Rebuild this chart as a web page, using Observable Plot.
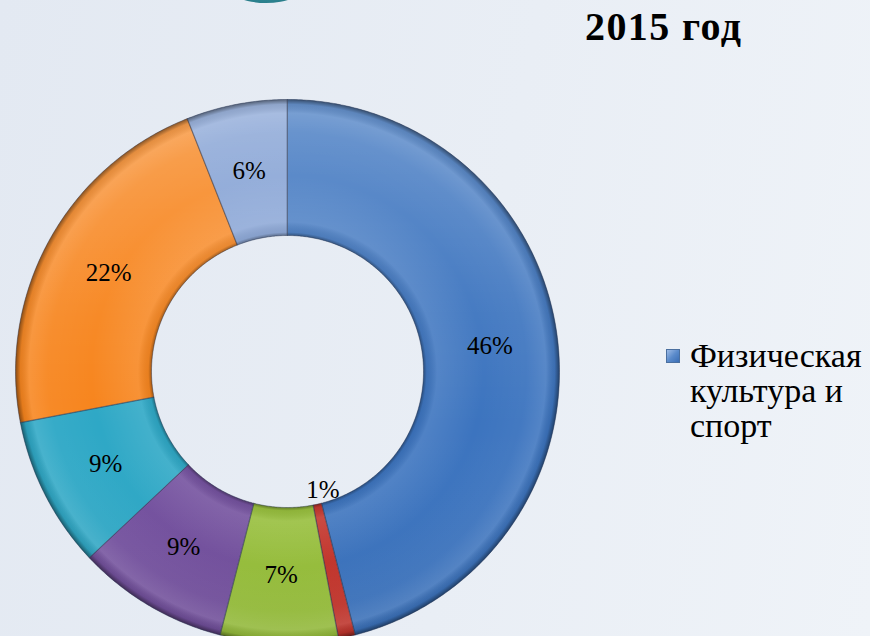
<!DOCTYPE html>
<html><head><meta charset="utf-8">
<script src="https://cdn.jsdelivr.net/npm/d3@7"></script>
<script src="https://cdn.jsdelivr.net/npm/@observablehq/plot@0.6"></script>
<style>
html,body{margin:0;padding:0;}
body{width:870px;height:636px;overflow:hidden;position:relative;
  background:linear-gradient(100deg,#e3e9f2 0%,#e9eef5 55%,#eff3f8 100%);
  font-family:"Liberation Serif","Times New Roman",serif;color:#000;}
#chart{position:absolute;left:0;top:0;}
#deco{position:absolute;left:228px;top:-30px;width:76px;height:33px;border-radius:50%;
  background:radial-gradient(ellipse at 50% 30%,#3aa0ae 0%,#2a7f8c 70%,#1f6670 100%);}
#title{position:absolute;left:585px;top:3px;font-size:40px;font-weight:bold;letter-spacing:1.4px;white-space:nowrap;}
#legend{position:absolute;left:666px;top:339px;font-size:34px;line-height:35px;}
#legend .sw{position:absolute;left:0;top:10px;width:12px;height:12px;
  background:linear-gradient(135deg,#9dbbe6 0%,#5b8bcb 50%,#3a6db5 100%);border:1px solid #4a6f9f;}
#legend .tx{position:absolute;left:24px;top:-1px;white-space:nowrap;}
</style></head>
<body>
<div id="deco"></div>
<div id="chart"></div>
<div id="title">2015 год</div>
<div id="legend"></div>
<script>
// ---- data ----
const legendLabels = ["Физическая", "культура и", "спорт"];
const categories = ["Физическая культура и спорт", "s2", "s3", "s4", "s5", "s6", "s7"];
const values = [46, 1, 7, 9, 9, 22, 6];
const labels = ["46%", "1%", "7%", "9%", "9%", "22%", "6%"];
const colors = ["#3c74bf", "#c5352c", "#98c03c", "#74519f", "#2ea8c6", "#f7841c", "#819fd3"];

// ---- geometry ----
const W = 870, H = 636;
const R = 272, CX = 287, CY = 371;     // pixel layout of donut
const outerR = 1, innerR = 0.5;

const arcs = d3.pie().sort(null).value(d => d)(values);
const rows = [];
arcs.forEach((a, i) => {
  const n = Math.max(2, Math.ceil((a.endAngle - a.startAngle) / 0.01));
  for (let k = 0; k <= n; k++) {
    const t = a.startAngle + (a.endAngle - a.startAngle) * k / n;
    rows.push({slice: i, x: outerR * Math.sin(t), y: outerR * Math.cos(t)});
  }
  for (let k = n; k >= 0; k--) {
    const t = a.startAngle + (a.endAngle - a.startAngle) * k / n;
    rows.push({slice: i, x: innerR * Math.sin(t), y: innerR * Math.cos(t)});
  }
});
const labelRows = arcs.map((a, i) => {
  const m = (a.startAngle + a.endAngle) / 2;
  const small = values[i] < 3;
  const r = small ? 0.455 : (outerR + innerR) / 2;
  const t = small ? m - 0.07 : m;
  return {x: r * Math.sin(t), y: r * Math.cos(t), text: labels[i]};
});

const plot = Plot.plot({
  width: W, height: H,
  margin: 0, inset: 0,
  x: {domain: [-CX / R, (W - CX) / R], axis: null},
  y: {domain: [-(H - CY) / R, CY / R], axis: null},
  color: {type: "identity"},
  style: {background: "transparent", overflow: "visible"},
  marks: [
    Plot.line(rows, {x: "x", y: "y", z: "slice", fill: d => colors[d.slice], stroke: "none", curve: "linear-closed"}),
    Plot.line(rows, {x: "x", y: "y", z: "slice", fill: "url(#shadeL)", stroke: "none", curve: "linear-closed"}),
    Plot.line(rows, {x: "x", y: "y", z: "slice", fill: "url(#shadeR)", stroke: "none", curve: "linear-closed"}),
    Plot.line(rows, {x: "x", y: "y", z: "slice", fill: "none", stroke: "#2b3550", strokeOpacity: 0.45, strokeWidth: 1, curve: "linear-closed"}),
    Plot.text(labelRows, {x: "x", y: "y", text: "text", fontSize: 25, fontFamily: "Liberation Serif", fill: "#000"})
  ]
});

// gradient defs positioned from the plot's own scales
const sx = plot.scale("x"), sy = plot.scale("y");
const px = v => sx.range[0] + (v - sx.domain[0]) / (sx.domain[1] - sx.domain[0]) * (sx.range[1] - sx.range[0]);
const py = v => sy.range[0] + (v - sy.domain[0]) / (sy.domain[1] - sy.domain[0]) * (sy.range[1] - sy.range[0]);
const cx = px(0), cy = py(0), rpx = px(outerR) - px(0);
const svg = d3.select(plot);
const defs = svg.insert("defs", ":first-child");
const rg = defs.append("radialGradient").attr("id", "shadeR").attr("gradientUnits", "userSpaceOnUse")
  .attr("cx", cx).attr("cy", cy).attr("r", rpx);
[[0.5, "#000", 0.35], [0.512, "#000", 0.06], [0.55, "#fff", 0.1], [0.72, "#fff", 0.0],
 [0.88, "#fff", 0.04], [0.95, "#fff", 0.12], [0.982, "#000", 0.08], [1, "#000", 0.45]]
  .forEach(([o, c, a]) => rg.append("stop").attr("offset", o).attr("stop-color", c).attr("stop-opacity", a));
const lg = defs.append("linearGradient").attr("id", "shadeL").attr("gradientUnits", "userSpaceOnUse")
  .attr("x1", cx).attr("y1", cy - rpx).attr("x2", cx).attr("y2", cy + rpx);
[[0, "#fff", 0.22], [0.4, "#fff", 0.05], [0.6, "#fff", 0], [1, "#000", 0.05]]
  .forEach(([o, c, a]) => lg.append("stop").attr("offset", o).attr("stop-color", c).attr("stop-opacity", a));

document.getElementById("chart").appendChild(plot);

const leg = document.getElementById("legend");
leg.innerHTML = '<div class="sw"></div><div class="tx">' + legendLabels.join("<br>") + '</div>';
</script>
</body></html>
